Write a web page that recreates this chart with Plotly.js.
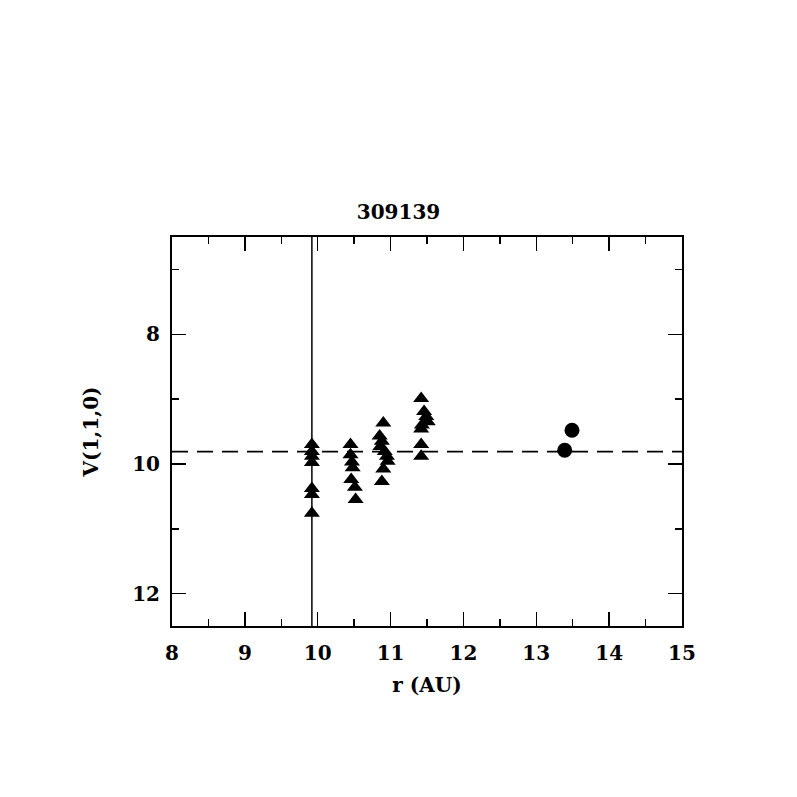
<!DOCTYPE html>
<html>
<head>
<meta charset="utf-8">
<script src="https://cdn.plot.ly/plotly-3.0.1.min.js"></script>
<style>html,body{margin:0;padding:0;background:#fff;}#chart{width:797px;height:797px;}</style>
</head>
<body>
<div id="chart"></div>
<script>
// Triangles (observations)
const triR = [9.92, 9.92, 9.92, 9.92, 9.92, 9.92, 9.92,
              10.45, 10.45, 10.47, 10.48, 10.46, 10.51, 10.52,
              10.90, 10.85, 10.88, 10.86, 10.92, 10.95, 10.96, 10.90, 10.88,
              11.42, 11.46, 11.49, 11.51, 11.43, 11.42, 11.42, 11.42];
const triV = [9.70, 9.81, 9.88, 9.98, 10.38, 10.47, 10.76,
              9.70, 9.86, 9.97, 10.06, 10.24, 10.36, 10.55,
              9.37, 9.57, 9.65, 9.73, 9.81, 9.88, 9.96, 10.08, 10.27,
              8.99, 9.19, 9.27, 9.35, 9.40, 9.46, 9.70, 9.88];
// Circles
const cirR = [13.39, 13.49];
const cirV = [9.79, 9.48];
// Reference lines
const refR = 9.92;   // vertical solid line
const refV = 9.81;   // horizontal dashed line
const titleText = "309139";

const font = {family: "DejaVu Serif", size: 20, color: "#000", weight: "bold"};

const data = [
  {x: triR, y: triV, type: "scatter", mode: "markers",
   marker: {symbol: "triangle-up", size: 14, color: "#000"}, hoverinfo: "x+y"},
  {x: cirR, y: cirV, type: "scatter", mode: "markers",
   marker: {symbol: "circle", size: 15, color: "#000"}, hoverinfo: "x+y"}
];

const axisCommon = {
  showgrid: false, zeroline: false, showline: true, linewidth: 2, linecolor: "#000",
  mirror: "allticks", ticks: "inside", tickwidth: 1.5, tickcolor: "#000",
  tickfont: font
};

const layout = {
  width: 797, height: 797,
  margin: {l: 172, r: 115, t: 237, b: 171},
  paper_bgcolor: "#fff", plot_bgcolor: "#fff",
  showlegend: false,
  font: font,
  title: {text: titleText, font: font,
          x: 0.5, xanchor: "center", y: 1 - 212/797, yanchor: "middle"},
  xaxis: Object.assign({}, axisCommon, {
    range: [8, 15], dtick: 1, tick0: 8, ticklen: 14, ticklabelstandoff: 8,
    minor: {dtick: 0.5, tick0: 8, ticklen: 7, ticks: "inside", tickwidth: 1.5, tickcolor: "#000"},
    title: {text: "r (AU)", font: font, standoff: 14}
  }),
  yaxis: Object.assign({}, axisCommon, {
    range: [12.5, 6.5], dtick: 2, tick0: 8, ticklen: 14, ticklabelstandoff: 6,
    minor: {dtick: 1, tick0: 7, ticklen: 7, ticks: "inside", tickwidth: 1.5, tickcolor: "#000"},
    title: {text: "V(1,1,0)", font: font, standoff: 28}
  }),
  shapes: [
    {type: "line", xref: "x", yref: "paper", x0: refR, x1: refR, y0: 0, y1: 1,
     line: {color: "#000", width: 1.5}},
    {type: "line", xref: "paper", yref: "y", x0: 0, x1: 1, y0: refV, y1: refV,
     line: {color: "#000", width: 1.8, dash: "16px,9px"}}
  ]
};

Plotly.newPlot("chart", data, layout, {staticPlot: true});
</script>
</body>
</html>
